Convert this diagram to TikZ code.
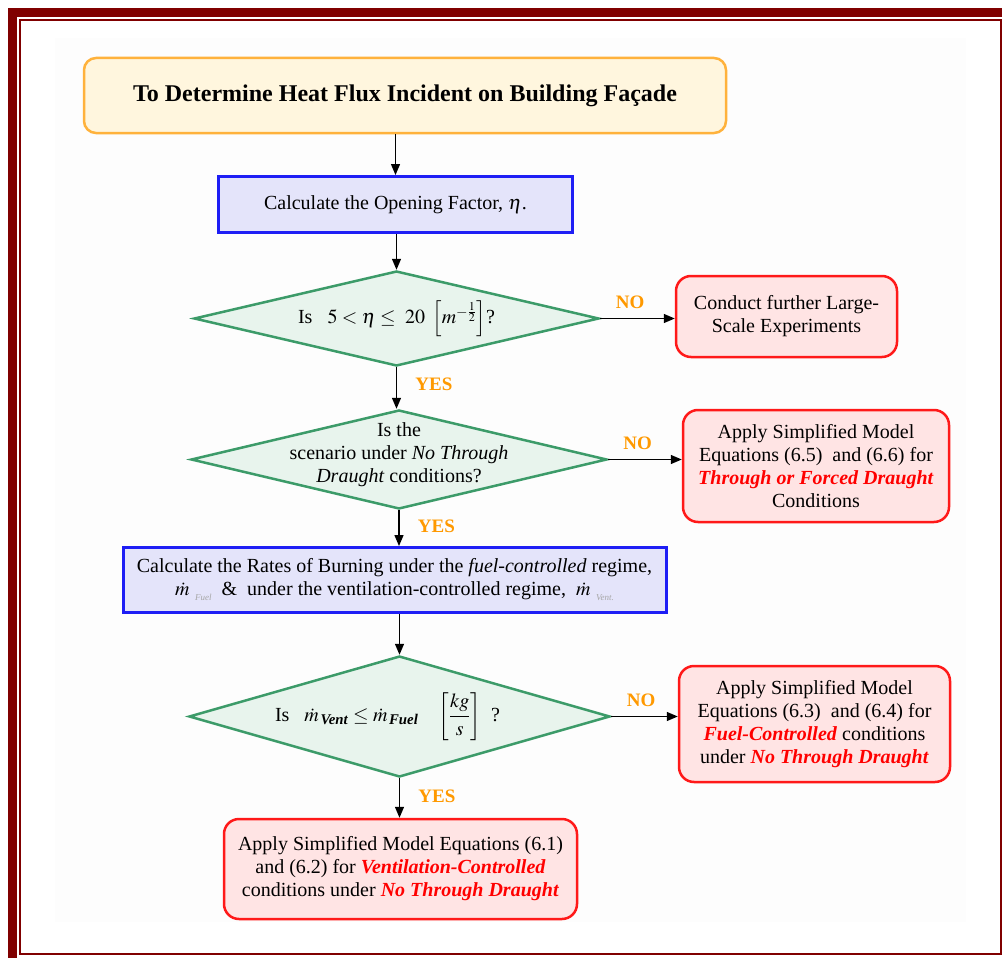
\documentclass[tikz,border=0pt]{standalone}
\usepackage{amsmath}
\usepackage{mathptmx}
\usepackage{fontspec}
\setmainfont{Liberation Serif}
\usepackage{xcolor}
\usetikzlibrary{arrows.meta,positioning,shapes.geometric,calc}
\definecolor{framered}{RGB}{128,0,0}
\definecolor{topedge}{RGB}{255,178,60}
\definecolor{topfill}{RGB}{255,246,222}
\definecolor{stepedge}{RGB}{30,30,245}
\definecolor{stepfill}{RGB}{228,228,250}
\definecolor{askedge}{RGB}{60,155,105}
\definecolor{askfill}{RGB}{232,244,237}
\definecolor{endedge}{RGB}{255,25,25}
\definecolor{endfill}{RGB}{255,228,228}
\definecolor{yesno}{RGB}{255,153,0}
\definecolor{pageshade}{RGB}{253,253,253}
\newcommand{\hl}[1]{\textcolor{red}{\textbf{\textit{#1}}}}
\newcommand{\gsub}[1]{\raisebox{-5pt}{\textcolor{black!35}{\fontsize{9}{9}\selectfont\itshape #1}}}

\begin{document}
\begin{tikzpicture}[x=1pt,y=-1pt,font=\fontsize{20}{23}\selectfont,
  topbox/.style={draw=topedge,fill=topfill,line width=2.5pt,rounded corners=12pt,
    font=\fontsize{24}{28}\selectfont\bfseries},
  stepbox/.style={draw=stepedge,fill=stepfill,line width=3pt,align=center},
  askbox/.style={diamond,draw=askedge,fill=askfill,line width=2.5pt,inner sep=0pt},
  endbox/.style={draw=endedge,fill=endfill,line width=2.5pt,rounded corners=15pt,align=center},
  arr/.style={-{Triangle[length=11pt,width=9pt]},line width=1.3pt},
  yn/.style={text=yesno,font=\fontsize{19}{22}\selectfont\bfseries}]
\useasboundingbox (0,0) rectangle (1002,958);
% page frame, thick and thin
\fill[pageshade] (55,38) rectangle (966,922);
\draw[framered,line width=9pt] (12.5,13) rectangle (1008,962);
\draw[framered,line width=2pt] (20,20) rectangle (1000.7,953.6);

\node[topbox,minimum width=642pt,minimum height=75pt] (top) at (405,95.5)
  {To Determine Heat Flux Incident on Building Façade};
\node[stepbox,minimum width=354pt,minimum height=56pt] (eta) at (395.5,204.5)
  {Calculate the Opening Factor, $\eta$.};
\node[askbox,minimum width=405pt,minimum height=95pt] (q1) at (396.5,318.5) {};
\node (q1t) at (q1) {Is~~ $5<\eta\le~20~\left[m^{-\frac{1}{2}}\right]$?};
\node[endbox,minimum width=221pt,minimum height=81pt] (lsx) at (786.5,316.5)
  {Conduct further Large-\\Scale Experiments};
\node[askbox,minimum width=416pt,minimum height=99pt] (q2) at (399,459.5) {};
\node[align=center] (q2t) at ([yshift=5pt]q2)
  {Is the\\scenario under \textit{No Through}\\\textit{Draught} conditions?};
\node[endbox,minimum width=266pt,minimum height=112pt] (frc) at (816,466)
  {Apply Simplified Model\\Equations (6.5)~ and (6.6) for\\\hl{Through or Forced Draught}\\Conditions};
\node[stepbox,minimum width=543pt,minimum height=65pt] (rate) at (394.5,580)
  {Calculate the Rates of Burning under the \textit{fuel-controlled} regime,\\
   $\dot{m}$\;\gsub{Fuel}~ \&~ under the ventilation-controlled regime,~ $\dot{m}$\;\gsub{Vent.}};
\node[askbox,minimum width=421pt,minimum height=121pt] (q3) at (399.5,716.5) {};
\node (q3t) at ([xshift=-12pt]q3)
  {Is~~ $\dot{m}_{\,\textbf{\textit{Vent}}}\le\dot{m}_{\,\textbf{\textit{Fuel}}}$~~~ $\left[\dfrac{kg}{s}\right]$~ ?};
\node[endbox,minimum width=271pt,minimum height=116pt] (fuel) at (814.5,724)
  {Apply Simplified Model\\Equations (6.3)~ and (6.4) for\\\hl{Fuel-Controlled} conditions\\under \hl{No Through Draught}};
\node[endbox,minimum width=353pt,minimum height=100pt] (vent) at (400.5,869)
  {Apply Simplified Model Equations (6.1)\\and (6.2) for \hl{Ventilation-Controlled}\\conditions under \hl{No Through Draught}};

% main column
\draw[arr] (top.south -| eta.north) -- (eta.north);
\draw[arr] (eta.south -| q1.north) -- (q1.north);
\draw[arr] (q1.south) -- (q1.south |- q2.north) node[yn,right=15pt,pos=0.4] (yes1) {YES};
\draw[arr] (q2.south) -- (q2.south |- rate.north) node[yn,right=15pt,pos=0.45] (yes2) {YES};
\draw[arr] (rate.south -| q3.north) -- (q3.north);
\draw[arr] (q3.south) -- (q3.south |- vent.north) node[yn,right=15pt,pos=0.45] (yes3) {YES};
% side exits
\draw[arr] (q1.east) -- (q1.east -| lsx.west) node[yn,above=6pt,pos=0.4] (no1) {NO};
\draw[arr] (q2.east) -- (q2.east -| frc.west) node[yn,above=6pt,pos=0.4] (no2) {NO};
\draw[arr] (q3.east) -- (q3.east -| fuel.west) node[yn,above=6pt,pos=0.45] (no3) {NO};
\end{tikzpicture}
\end{document}
